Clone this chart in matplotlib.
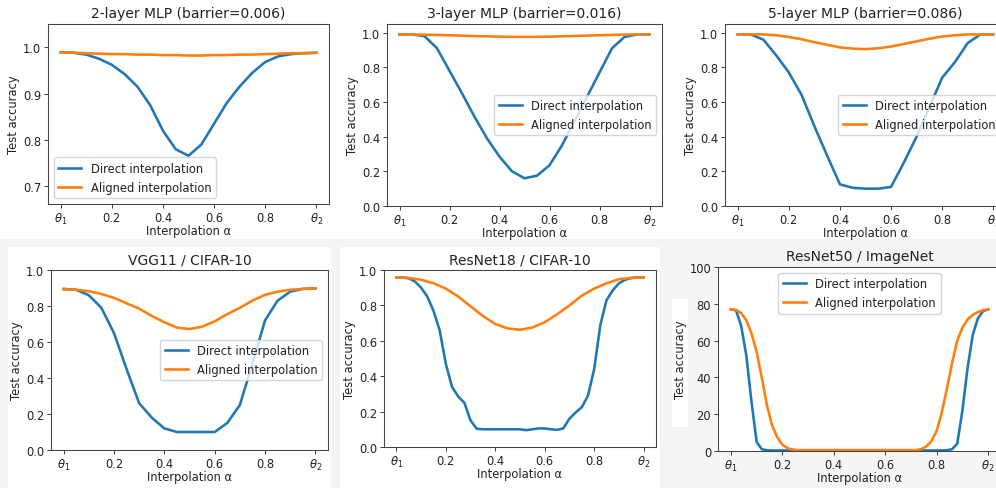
import numpy as np
import matplotlib.pyplot as plt
from matplotlib.patches import Rectangle

W, H = 996, 489

# interpolation grids
alpha_21 = np.linspace(0, 1, 21)
alpha_41 = np.linspace(0, 1, 41)
alpha_51 = np.linspace(0, 1, 51)

# 2-layer MLP
mlp2_direct = [0.989, 0.988, 0.984, 0.975, 0.962, 0.942, 0.915, 0.875, 0.820, 0.780, 0.766,
               0.790, 0.835, 0.880, 0.915, 0.945, 0.968, 0.980, 0.985, 0.987, 0.988]
mlp2_aligned = [0.989, 0.988, 0.987, 0.986, 0.985, 0.985, 0.984, 0.984, 0.983, 0.983, 0.982,
                0.982, 0.983, 0.983, 0.984, 0.984, 0.985, 0.986, 0.987, 0.987, 0.988]

# 3-layer MLP
mlp3_direct = [0.990, 0.990, 0.980, 0.910, 0.780, 0.650, 0.515, 0.390, 0.285, 0.200, 0.160,
               0.175, 0.235, 0.350, 0.490, 0.630, 0.770, 0.910, 0.975, 0.990, 0.990]
mlp3_aligned = [0.990, 0.990, 0.988, 0.987, 0.985, 0.983, 0.980, 0.979, 0.977, 0.976, 0.976,
                0.976, 0.977, 0.979, 0.981, 0.983, 0.985, 0.987, 0.989, 0.990, 0.990]

# 5-layer MLP
mlp5_direct = [0.990, 0.990, 0.960, 0.870, 0.770, 0.640, 0.460, 0.290, 0.125, 0.105, 0.100,
               0.100, 0.110, 0.250, 0.400, 0.570, 0.740, 0.830, 0.940, 0.990, 0.990]
mlp5_aligned = [0.990, 0.990, 0.990, 0.985, 0.975, 0.962, 0.945, 0.930, 0.915, 0.908, 0.905,
                0.910, 0.920, 0.935, 0.950, 0.965, 0.978, 0.985, 0.990, 0.990, 0.990]

# VGG11 / CIFAR-10
vgg_direct = [0.895, 0.890, 0.860, 0.790, 0.650, 0.450, 0.260, 0.180, 0.120, 0.100, 0.100,
              0.100, 0.100, 0.150, 0.250, 0.480, 0.720, 0.830, 0.880, 0.895, 0.898]
vgg_aligned = [0.894, 0.890, 0.882, 0.867, 0.845, 0.815, 0.785, 0.745, 0.710, 0.680, 0.672,
               0.685, 0.715, 0.755, 0.790, 0.830, 0.862, 0.880, 0.890, 0.895, 0.898]

# ResNet18 / CIFAR-10
r18_direct = [0.958, 0.958, 0.953, 0.935, 0.900, 0.850, 0.770, 0.660, 0.470, 0.340, 0.285,
              0.250, 0.150, 0.103, 0.100, 0.100, 0.100, 0.100, 0.100, 0.100, 0.100,
              0.095, 0.100, 0.105, 0.105, 0.100, 0.097, 0.105, 0.160, 0.195, 0.225,
              0.290, 0.440, 0.690, 0.830, 0.885, 0.925, 0.945, 0.955, 0.958, 0.958]
r18_aligned = [0.958, 0.955, 0.945, 0.925, 0.895, 0.850, 0.795, 0.740, 0.695, 0.670, 0.662,
               0.675, 0.705, 0.750, 0.800, 0.855, 0.895, 0.925, 0.948, 0.955, 0.958]

# ResNet50 / ImageNet (accuracy in %)
r50_direct = [77.0, 76.4, 68.0, 52.0, 27.0, 5.0, 1.0, 0.4,
              0.3, 0.3, 0.3, 0.3, 0.3, 0.3, 0.3, 0.3, 0.3, 0.3, 0.3, 0.3, 0.3, 0.3, 0.3, 0.3, 0.3,
              0.3, 0.3, 0.3, 0.3, 0.3, 0.3, 0.3, 0.3, 0.3, 0.3, 0.3, 0.3, 0.3, 0.3, 0.3, 0.3, 0.3,
              0.4, 1.0, 4.0, 22.0, 45.0, 63.0, 72.0, 76.0, 77.0]
r50_aligned = [77.0, 76.6, 75.0, 71.0, 64.0, 54.0, 40.0, 25.0, 14.0, 7.5, 3.5, 1.5, 0.8,
               0.5, 0.5, 0.5, 0.5, 0.5, 0.5, 0.5, 0.5, 0.5, 0.5, 0.5, 0.5,
               0.5, 0.5, 0.5, 0.5, 0.5, 0.5, 0.5, 0.5, 0.5, 0.5, 0.5, 0.5,
               1.0, 2.5, 5.5, 11.0, 21.0, 34.0, 48.0, 60.0, 67.0, 71.5, 74.0, 75.5, 76.5, 77.0]

xticks = [0, 0.2, 0.4, 0.6, 0.8, 1.0]
xticklabels = [r'$\theta_1$', '0.2', '0.4', '0.6', '0.8', r'$\theta_2$']

BLUE = '#1f77b4'
ORANGE = '#ff7f0e'
S = 0.83  # the panels are shrunk screenshots of default-size figures

fig = plt.figure(figsize=(W / 100, H / 100), dpi=100)
fig.patch.set_facecolor('white')


def rect(x0, y0, x1, y1, color):
    fig.add_artist(Rectangle((x0 / W, 1 - y1 / H), (x1 - x0) / W, (y1 - y0) / H,
                             transform=fig.transFigure, facecolor=color,
                             edgecolor='none', zorder=-10))


# light grey screenshot backgrounds of the bottom row
rect(0, 240, 340, 489, '#f5f5f5')
rect(8, 248, 331, 489, 'white')
rect(333, 240, 665, 489, '#f5f5f5')
rect(340, 248, 660, 489, 'white')
rect(665, 240, 996, 489, '#f5f5f5')
rect(672, 300, 688, 428, 'white')


def px_axes(l, t, r, b):
    return fig.add_axes([l / W, 1 - b / H, (r - l) / W, (b - t) / H])


def panel(box, title, xd, yd, xa, ya, ylim, yticks, legend_loc):
    ax = px_axes(*box)
    ax.plot(xd, yd, color=BLUE, lw=2 * S + 0.2, label='Direct interpolation')
    ax.plot(xa, ya, color=ORANGE, lw=2 * S + 0.2, label='Aligned interpolation')
    ax.set_xlim(-0.05, 1.05)
    ax.set_ylim(*ylim)
    ax.set_yticks(yticks)
    ax.set_xticks(xticks)
    ax.set_xticklabels(xticklabels)
    ax.tick_params(labelsize=10 * S, length=3.5 * S, width=0.8 * S, pad=2,
                   color='#333333', labelcolor='#222222')
    ax.set_title(title, fontsize=12 * S, pad=6 * S, color='#222222')
    ax.set_xlabel('Interpolation α', fontsize=10 * S, labelpad=-1.5, color='#222222')
    ax.set_ylabel('Test accuracy', fontsize=10 * S, labelpad=2, color='#222222')
    for s in ax.spines.values():
        s.set_color('#444444')
        s.set_linewidth(0.8 * S + 0.1)
    if legend_loc:
        leg = ax.legend(loc=legend_loc, fontsize=10 * S)
        for t in leg.get_texts():
            t.set_color('#222222')
    return ax


acc_ticks = [0.0, 0.2, 0.4, 0.6, 0.8, 1.0]

panel((48, 25, 329, 205), '2-layer MLP (barrier=0.006)',
      alpha_21, mlp2_direct, alpha_21, mlp2_aligned,
      (0.662, 1.05), [0.7, 0.8, 0.9, 1.0], 'lower left')
panel((387, 25, 662, 207), '3-layer MLP (barrier=0.016)',
      alpha_21, mlp3_direct, alpha_21, mlp3_aligned,
      (0, 1.05), acc_ticks, 'center right')
panel((725, 25, 1006, 207), '5-layer MLP (barrier=0.086)',
      alpha_21, mlp5_direct, alpha_21, mlp5_aligned,
      (0, 1.05), acc_ticks, 'center right')
panel((51, 271, 328, 451), 'VGG11 / CIFAR-10',
      alpha_21, vgg_direct, alpha_21, vgg_aligned,
      (0, 1.0), acc_ticks, 'center right')
panel((384, 271, 656, 448), 'ResNet18 / CIFAR-10',
      alpha_41, r18_direct, alpha_21, r18_aligned,
      (0, 1.0), acc_ticks, None)
panel((718, 268, 1001, 452), 'ResNet50 / ImageNet',
      alpha_51, r50_direct, alpha_51, r50_aligned,
      (0, 100), [0, 20, 40, 60, 80, 100], 'upper center')

fig.savefig('out.png', dpi=100)
